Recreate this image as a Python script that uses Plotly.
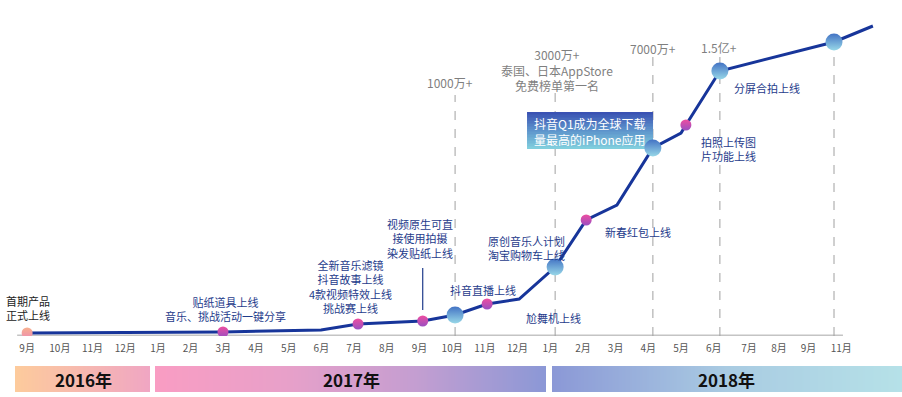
import plotly.graph_objects as go

# ---------------- data ----------------
# x = months since Sep 2016 (position), y = growth index (arbitrary units)
month_pos = [0.0, 5.99, 8.99, 10.12, 12.1, 13.09, 14.07, 15.05, 16.15, 17.1, 18.04, 19.14, 20.0, 20.15, 21.19, 24.68, 25.87]
growth    = [3,   4,    6,    12,    15,   21,    32,    37,    69,    116,  131,   188,   203,  211,   265,   294,   310]
point_kind = ["start", "event", "", "event", "event", "milestone", "event", "", "milestone",
              "event", "", "milestone", "", "event", "milestone", "milestone", ""]

tick_pos = list(range(22)) + [22.08, 23.0, 23.9, 24.9]
tick_text = ["9月", "10月", "11月", "12月", "1月", "2月", "3月", "4月", "5月", "6月", "7月", "8月",
             "9月", "10月", "11月", "12月", "1月", "2月", "3月", "4月", "5月", "6月",
             "7月", "8月", "9月", "11月"]

years = ["2016年", "2017年", "2018年"]
year_start = [-0.37, 3.91, 16.06]
year_end = [3.76, 15.87, 26.75]
year_colors = [["#FDCB9C", "#F0A6C3"],
               ["#F99DC3", "#E8A0C9", "#C49ED1", "#8B98D6"],
               ["#8B98D6", "#A9CBE2", "#B6E2E8"]]

milestone_text = ["1000万+", "3000万+<br>泰国、日本AppStore<br>免费榜单第一名", "7000万+", "1.5亿+", ""]
milestone_top = [241, 243, 281, 281, 294]

event_text = [
    "首期产品<br>正式上线",
    "贴纸道具上线<br>音乐、挑战活动一键分享",
    "全新音乐滤镜<br>抖音故事上线<br>4款视频特效上线<br>挑战赛上线",
    "视频原生可直<br>接使用拍摄<br>染发贴纸上线",
    "抖音直播上线",
    "原创音乐人计划<br>淘宝购物车上线",
    "尬舞机上线",
    "新春红包上线",
    "拍照上传图<br>片功能上线",
    "分屏合拍上线",
]
highlight_text = "抖音Q1成为全球下载<br>量最高的iPhone应用"

# ---------------- layout helpers ----------------
W, H = 902, 397
PX0, PXM = 27.0, 32.7      # pixel of month 0, pixels per month
BASE = 336.0               # pixel row of value 0

def px(x):
    return x / W

def py(y):
    return (H - y) / H

FONT = "Noto Sans CJK SC, Microsoft YaHei, sans-serif"
NAVY = "#1F3C8C"
LINE = "#17359A"
GRAY = "#7F7F7F"

fig = go.Figure()

# year band (gradient via heatmap on its own y axis)
n_cols = 1000
x_lo, x_hi = -0.83, 26.76
step = (x_hi - x_lo) / n_cols
cols = [x_lo + step * (i + 0.5) for i in range(n_cols)]
zrow = []
for c in cols:
    v = None
    for i, (s, e) in enumerate(zip(year_start, year_end)):
        if s <= c <= e:
            v = i + 0.98 * (c - s) / (e - s)
    zrow.append(v)
cscale = []
for i, cl in enumerate(year_colors):
    for k, col in enumerate(cl):
        cscale.append([(i + 0.98 * k / (len(cl) - 1)) / 3.0, col])
cscale[-1][0] = 1.0
fig.add_trace(go.Heatmap(x=cols, y=[0], z=[zrow], colorscale=cscale, zmin=0, zmax=3,
                         showscale=False, hoverinfo="skip", xaxis="x", yaxis="y2"))

# highlight box gradient (on main axes)
bx0, bx1 = (527 - PX0) / PXM, (653 - PX0) / PXM
by0, by1 = BASE - 149, BASE - 112
nrow = 24
yedges = [by0 + (by1 - by0) * i / nrow for i in range(nrow + 1)]
fig.add_trace(go.Heatmap(x=[bx0, bx1], y=yedges, z=[[i / (nrow - 1)] for i in range(nrow)],
                         colorscale=[[0, "#80CEDD"], [0.5, "#5E95CC"], [1, "#3A52B3"]],
                         showscale=False, hoverinfo="skip", xaxis="x", yaxis="y"))

# main growth line
fig.add_trace(go.Scatter(x=month_pos, y=growth, mode="lines",
                         line=dict(color=LINE, width=3), hoverinfo="skip", showlegend=False))

def kind_pts(k):
    xs = [x for x, t in zip(month_pos, point_kind) if t == k]
    ys = [y for y, t in zip(growth, point_kind) if t == k]
    return xs, ys

xs, ys = kind_pts("start")
fig.add_trace(go.Scatter(x=xs, y=ys, mode="markers", showlegend=False, hoverinfo="skip",
                         marker=dict(size=11, color="#F7B08E", line=dict(width=0),
                                     gradient=dict(type="vertical", color="#EE8FB0"))))
xs, ys = kind_pts("event")
fig.add_trace(go.Scatter(x=xs, y=ys, mode="markers", showlegend=False, hoverinfo="skip",
                         marker=dict(size=11, color="#EE4DA0", line=dict(width=0),
                                     gradient=dict(type="vertical", color="#9A4FC2"))))
xs, ys = kind_pts("milestone")
fig.add_trace(go.Scatter(x=xs, y=ys, mode="markers", showlegend=False, hoverinfo="skip",
                         marker=dict(size=17, color="#4373C4", line=dict(width=0),
                                     gradient=dict(type="vertical", color="#98D8E8"))))

shapes = []
# axis baseline
shapes.append(dict(type="line", xref="x", yref="y", x0=(17 - PX0) / PXM, x1=(843 - PX0) / PXM,
                   y0=0, y1=0, line=dict(color="#C4C4C4", width=3), layer="below"))
# milestone dashed lines
ms_x, ms_y = kind_pts("milestone")
for x, top in zip(ms_x, milestone_top):
    shapes.append(dict(type="line", xref="x", yref="y", x0=x, x1=x, y0=0, y1=top,
                       line=dict(color="#A0A0A0", width=1, dash="dash"), layer="below"))
# connector for Sep 2017 event
shapes.append(dict(type="line", xref="x", yref="y", x0=month_pos[4], x1=month_pos[4],
                   y0=BASE - 310, y1=BASE - 268, line=dict(color=NAVY, width=1.2)))

annotations = []
event_pos = [(4, 308, "left"), (225, 309, "center"), (350, 286, "center"), (420, 238, "center"),
             (483, 290, "center"), (526, 248, "center"), (553, 318, "center"), (638, 232, "center"),
             (699, 149, "left"), (767, 88, "center")]
for i, (t, (x, y, al)) in enumerate(zip(event_text, event_pos)):
    annotations.append(dict(text=t, xref="paper", yref="paper", x=px(x), y=py(y),
                            xanchor=al, yanchor="middle", align=al, showarrow=False,
                            font=dict(family=FONT, size=11, color="#222222" if i == 0 else NAVY)))
ms_pos = [(450, 82), (557, 70), (653, 48), (719, 47)]
for t, (x, y) in zip(milestone_text, ms_pos):
    annotations.append(dict(text=t, xref="paper", yref="paper", x=px(x), y=py(y),
                            xanchor="center", yanchor="middle", align="center", showarrow=False,
                            font=dict(family=FONT, size=12, color=GRAY)))
annotations.append(dict(text=highlight_text, xref="paper", yref="paper", x=px(590), y=py(131),
                        xanchor="center", yanchor="middle", align="center", showarrow=False,
                        font=dict(family=FONT, size=12, color="white")))
year_px = [83, 351, 726]
for t, x in zip(years, year_px):
    annotations.append(dict(text="<b>" + t + "</b>", xref="paper", yref="paper", x=px(x), y=py(379),
                            xanchor="center", yanchor="middle", showarrow=False,
                            font=dict(family=FONT, size=17, color="#111111")))

fig.update_layout(
    width=W, height=H, autosize=False,
    margin=dict(l=0, r=0, t=0, b=0, pad=0),
    paper_bgcolor="white", plot_bgcolor="white",
    showlegend=False,
    xaxis=dict(range=[x_lo, x_hi], domain=[0, 1], showgrid=False, zeroline=False, showline=False,
               tickmode="array", tickvals=tick_pos, ticktext=tick_text, ticks="outside",
               ticklen=3, tickcolor="rgba(0,0,0,0)",
               tickfont=dict(family=FONT, size=10, color="#555555"), fixedrange=True),
    yaxis=dict(range=[0, BASE], domain=[(H - BASE) / H, 1], visible=False, fixedrange=True),
    yaxis2=dict(range=[-0.5, 0.5], domain=[py(392), py(366)], visible=False, fixedrange=True),
    shapes=shapes, annotations=annotations,
)

fig.write_html("out.html", config={"displayModeBar": False},
               post_script="document.body.style.margin='0';document.body.style.overflow='hidden';")
